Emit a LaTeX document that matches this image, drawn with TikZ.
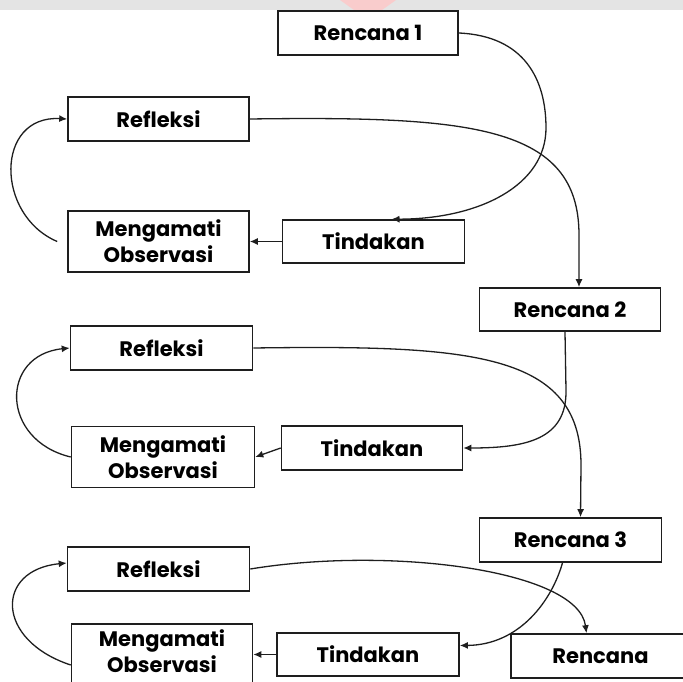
\documentclass[tikz,border=0pt]{standalone}
\usepackage{fontspec}
\setmainfont{Poppins}
\usetikzlibrary{arrows.meta,calc}
\definecolor{lineC}{HTML}{1E1E1E}
\definecolor{bandC}{HTML}{E4E4E4}
\definecolor{pinkC}{HTML}{F9CCCC}
\begin{document}
\begin{tikzpicture}[x=1pt,y=-1pt,
  boxtext/.style={inner sep=0pt,font=\fontsize{21}{26}\selectfont\bfseries,align=center,text=black},
  box/.style={boxtext,draw=lineC,line width=1.6pt,fill=white},
  conn/.style={line width=1.3pt,draw=lineC,-{Latex[length=8pt,width=7pt]}}]
\useasboundingbox (0,0) rectangle (683,682);
\clip (0,0) rectangle (683,682);
% faint background band at the top
\fill[bandC] (0,0) rectangle (683,10);
\fill[pinkC] (340,0) -- (396,0) -- (368,20) -- cycle;
% nodes
\node[box,minimum width=180pt,minimum height=44pt] (p1) at (368,33) {Rencana 1};
\node[box,minimum width=181pt,minimum height=44pt] (r1) at (158.5,119) {Refleksi};
\node[box,minimum width=181pt,minimum height=61pt] (m1) at (158.5,241.5) {Mengamati\\Observasi};
\node[box,minimum width=182pt,minimum height=43pt] (t1) at (373.5,241.5) {Tindakan};
\node[box,minimum width=181pt,minimum height=43pt] (p2) at (570,309.5) {Rencana 2};
\node[box,minimum width=182pt,minimum height=44pt] (r2) at (161.5,348) {Refleksi};
\node[box,minimum width=183pt,minimum height=61pt] (m2) at (163,457) {Mengamati\\Observasi};
\node[box,minimum width=181pt,minimum height=44pt] (t2) at (372,448) {Tindakan};
\node[box,minimum width=182pt,minimum height=44pt] (p3) at (570.5,540) {Rencana 3};
\node[box,minimum width=182pt,minimum height=44pt] (r3) at (158.5,569) {Refleksi};
\node[box,minimum width=181pt,minimum height=66pt] (m3) at (162,657) {};
\node[boxtext] (m3t) at (162,651) {Mengamati\\Observasi};
\node[box,minimum width=182pt,minimum height=43pt] (t3) at (368,654.5) {Tindakan};
\node[box,minimum width=179pt,minimum height=44pt] (p4) at (600.5,656) {Rencana};
% cycle 1
\draw[conn] (p1.east) .. controls (525,36) and (546,80) .. (546,128)
  .. controls (546,185) and (480,219) .. ($(t1.north)+(18,0)$);
\draw[conn] (t1.west) -- (m1.east);
\draw[conn] ($(m1.west)+(-10,0)$) .. controls (-5,215) and (-5,115) .. (r1.west);
\draw[conn] (r1.east) .. controls (470,116) and (579,125) .. (579,235) -- ($(p2.north)+(9,0)$);
% cycle 2
\draw[conn] ($(p2.south)+(-5,0)$) -- (566,390) .. controls (567,440) and (525,448) .. (t2.east);
\draw[conn] (t2.west) -- (m2.east);
\draw[conn] (m2.west) .. controls (0,440) and (0,355) .. (r2.west);
\draw[conn] (r2.east) .. controls (470,345) and (581,352) .. (581,465) -- ($(p3.north)+(10,0)$);
% cycle 3
\draw[conn] ($(p3.south)+(-8,0)$) .. controls (552,600) and (520,645) .. ($(t3.east)+(0,-9)$);
\draw[conn] (t3.west) -- (t3.west -| m3.east);
\draw[conn] ($(m3.west)+(0,8)$) .. controls (-5,640) and (-5,570) .. ($(r3.west)+(0,-6)$);
\draw[conn] (r3.east) .. controls (390,546) and (578,570) .. ($(p4.north)+(-14,0)$);
\end{tikzpicture}
\end{document}
